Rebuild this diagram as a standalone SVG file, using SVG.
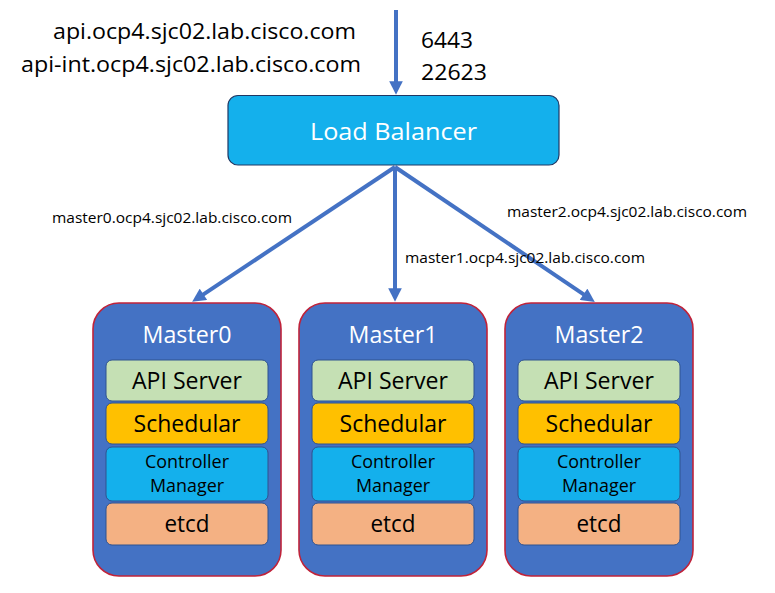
<svg xmlns="http://www.w3.org/2000/svg" width="775" height="593" viewBox="0 0 775 593">
<style>
text{font-family:"Open Sans","Liberation Sans",sans-serif}
.lbl{font-size:22px;fill:#000}
.elbl{font-size:14.5px;fill:#000}
.master{fill:#4472C4;stroke:#C0233A;stroke-width:1.6}
.title{font-size:24px;fill:#fff;text-anchor:middle}
.comp{stroke:#2F528F;stroke-width:1}
.api{fill:#C5E0B4}
.sch{fill:#FFC000}
.ctl{fill:#14B0EC}
.etc{fill:#F4B183}
.ct{fill:#000;text-anchor:middle;font-size:24px}
.cs{fill:#000;text-anchor:middle;font-size:18.5px}
.conn{stroke:#4472C4;stroke-width:4;fill:none;marker-end:url(#ah)}
</style>
<defs>
<marker id="ah" viewBox="0 0 10 10" refX="5" refY="5" markerWidth="3.6" markerHeight="3.4" orient="auto" markerUnits="strokeWidth">
<path d="M0,0 L10,5 L0,10 z" fill="#4472C4"/>
</marker>
</defs>
<g id="labels">
<text class="lbl" x="53" y="39" textLength="303" lengthAdjust="spacingAndGlyphs">api.ocp4.sjc02.lab.cisco.com</text>
<text class="lbl" x="21" y="72" textLength="340" lengthAdjust="spacingAndGlyphs">api-int.ocp4.sjc02.lab.cisco.com</text>
<text class="lbl" x="421" y="48" textLength="52" lengthAdjust="spacingAndGlyphs">6443</text>
<text class="lbl" x="421" y="80" textLength="66" lengthAdjust="spacingAndGlyphs">22623</text>
</g>
<g id="connectors">
<line class="conn" x1="396" y1="10" x2="396" y2="88"/>
<line class="conn" x1="395" y1="167" x2="197.8" y2="298.1"/>
<line class="conn" x1="395" y1="167" x2="395" y2="295"/>
<line class="conn" x1="395" y1="167" x2="589.2" y2="298.1"/>
<text class="elbl" x="52" y="223" textLength="240" lengthAdjust="spacingAndGlyphs">master0.ocp4.sjc02.lab.cisco.com</text>
<text class="elbl" x="405" y="263" textLength="240" lengthAdjust="spacingAndGlyphs">master1.ocp4.sjc02.lab.cisco.com</text>
<text class="elbl" x="507" y="217" textLength="240" lengthAdjust="spacingAndGlyphs">master2.ocp4.sjc02.lab.cisco.com</text>
</g>
<g id="load-balancer">
<rect x="228" y="95.5" width="331" height="69.5" rx="10" fill="#14B0EC" stroke="#1F3864" stroke-width="1.2"/>
<text x="393.5" y="140" font-size="24" fill="#fff" text-anchor="middle" textLength="167" lengthAdjust="spacingAndGlyphs">Load Balancer</text>
</g>
<g id="master0">
<rect class="master" x="93" y="303" width="188" height="273" rx="26"/>
<text class="title" x="187" y="343" textLength="89" lengthAdjust="spacingAndGlyphs">Master0</text>
<rect class="comp api" x="106" y="360" width="162" height="41" rx="6"/>
<text class="ct" x="187" y="389" textLength="110" lengthAdjust="spacingAndGlyphs">API Server</text>
<rect class="comp sch" x="106" y="403" width="162" height="41" rx="6"/>
<text class="ct" x="187" y="432" textLength="107" lengthAdjust="spacingAndGlyphs">Schedular</text>
<rect class="comp ctl" x="106" y="447" width="162" height="54" rx="6"/>
<text class="cs" x="187" y="468" textLength="84" lengthAdjust="spacingAndGlyphs">Controller</text>
<text class="cs" x="187" y="492" textLength="74" lengthAdjust="spacingAndGlyphs">Manager</text>
<rect class="comp etc" x="106" y="503" width="162" height="42" rx="6"/>
<text class="ct" x="187" y="532" textLength="45" lengthAdjust="spacingAndGlyphs">etcd</text>
</g>
<g id="master1">
<rect class="master" x="299" y="303" width="188" height="273" rx="26"/>
<text class="title" x="393" y="343" textLength="89" lengthAdjust="spacingAndGlyphs">Master1</text>
<rect class="comp api" x="312" y="360" width="162" height="41" rx="6"/>
<text class="ct" x="393" y="389" textLength="110" lengthAdjust="spacingAndGlyphs">API Server</text>
<rect class="comp sch" x="312" y="403" width="162" height="41" rx="6"/>
<text class="ct" x="393" y="432" textLength="107" lengthAdjust="spacingAndGlyphs">Schedular</text>
<rect class="comp ctl" x="312" y="447" width="162" height="54" rx="6"/>
<text class="cs" x="393" y="468" textLength="84" lengthAdjust="spacingAndGlyphs">Controller</text>
<text class="cs" x="393" y="492" textLength="74" lengthAdjust="spacingAndGlyphs">Manager</text>
<rect class="comp etc" x="312" y="503" width="162" height="42" rx="6"/>
<text class="ct" x="393" y="532" textLength="45" lengthAdjust="spacingAndGlyphs">etcd</text>
</g>
<g id="master2">
<rect class="master" x="505" y="303" width="188" height="273" rx="26"/>
<text class="title" x="599" y="343" textLength="89" lengthAdjust="spacingAndGlyphs">Master2</text>
<rect class="comp api" x="518" y="360" width="162" height="41" rx="6"/>
<text class="ct" x="599" y="389" textLength="110" lengthAdjust="spacingAndGlyphs">API Server</text>
<rect class="comp sch" x="518" y="403" width="162" height="41" rx="6"/>
<text class="ct" x="599" y="432" textLength="107" lengthAdjust="spacingAndGlyphs">Schedular</text>
<rect class="comp ctl" x="518" y="447" width="162" height="54" rx="6"/>
<text class="cs" x="599" y="468" textLength="84" lengthAdjust="spacingAndGlyphs">Controller</text>
<text class="cs" x="599" y="492" textLength="74" lengthAdjust="spacingAndGlyphs">Manager</text>
<rect class="comp etc" x="518" y="503" width="162" height="42" rx="6"/>
<text class="ct" x="599" y="532" textLength="45" lengthAdjust="spacingAndGlyphs">etcd</text>
</g>
</svg>
